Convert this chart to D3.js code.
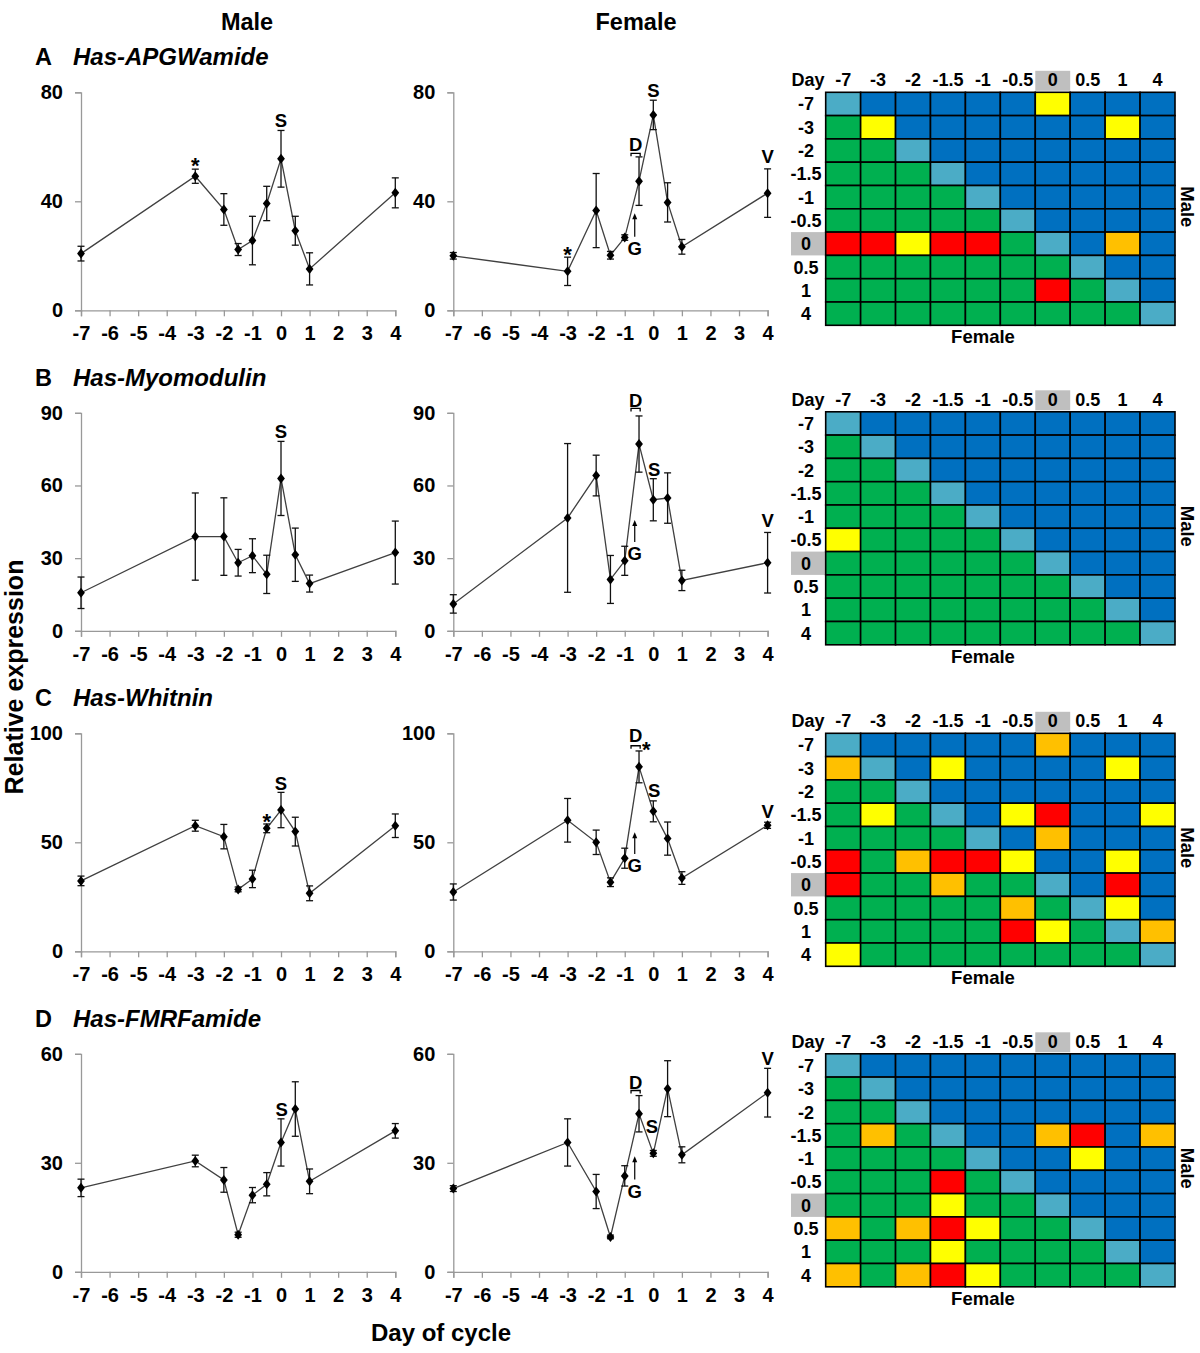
<!DOCTYPE html>
<html><head><meta charset="utf-8">
<script src="https://cdn.jsdelivr.net/npm/d3@7"></script>
<style>body{margin:0;background:#fff} svg{font-family:"Liberation Sans",Arial,sans-serif;font-weight:bold}</style>
</head><body><svg id="c" width="1200" height="1353"></svg>
<script>
// ---------- data ----------
const days = [-7,-3,-2,-1.5,-1,-0.5,0,0.5,1,4];
const xTicks = [-7,-6,-5,-4,-3,-2,-1,0,1,2,3,4];
const dayLabels = ["-7","-3","-2","-1.5","-1","-0.5","0","0.5","1","4"];
const genes = ["Has-APGWamide","Has-Myomodulin","Has-Whitnin","Has-FMRFamide"];
const panelLetters = ["A","B","C","D"];
const yMax = [80,90,100,60];
const yTicks = [[0,40,80],[0,30,60,90],[0,50,100],[0,30,60]];

const maleA    = [20.8,49.2,37.0,22.3,25.6,39.2,55.6,29.2,15.2,43.1];
const maleAErr = [2.7,2.6,5.8,2.2,8.9,6.3,10.4,5.3,5.9,5.5];
const femaleA    = [20.0,14.3,36.6,20.2,26.7,47.4,71.7,39.6,23.3,43.0];
const femaleAErr = [1.2,5.2,13.6,1.4,1.0,8.9,5.4,7.2,2.7,8.9];

const maleB    = [15.7,38.9,38.9,28.1,31.0,23.3,62.9,31.4,19.5,32.3];
const maleBErr = [6.5,18.0,16.0,5.5,7.0,7.9,15.3,11.0,3.5,13.0];
const femaleB    = [11.1,46.6,64.1,21.2,28.9,77.1,54.1,54.8,20.8,28.1];
const femaleBErr = [3.8,30.7,8.4,9.9,6.0,11.6,8.7,10.4,4.2,12.5];

const maleC    = [32.3,57.6,52.6,28.4,33.2,56.4,64.8,54.9,26.6,57.6];
const maleCErr = [2.2,2.5,5.6,1.1,4.0,2.0,8.1,6.6,3.4,5.4];
const femaleC    = [27.2,60.1,50.0,31.7,42.7,84.6,64.2,51.7,33.6,57.8];
const femaleCErr = [3.7,10.0,5.6,2.0,4.6,7.3,4.8,7.6,2.9,1.4];

const maleD    = [23.1,30.5,25.3,10.2,21.1,24.1,35.6,44.8,24.9,38.8];
const maleDErr = [2.4,1.6,3.4,0.7,2.1,3.2,6.5,7.5,3.4,2.0];
const femaleD    = [22.9,35.6,22.1,9.6,26.4,43.5,32.6,50.4,32.2,49.3];
const femaleDErr = [0.8,6.5,4.7,0.5,2.8,5.0,0.8,7.7,2.2,6.7];

// annotations: [day, value, text]
const annMale = [
  [[-3,55.1,"*"],[0,69.6,"S"]],
  [[0,82.2,"S"]],
  [[-0.5,62.2,"*"],[0,77.2,"S"]],
  [[0.02,44.8,"S"]]
];
const annFemale = [
  [[-3,22.7,"*"],[-0.62,61,"D"],[0,80.9,"S"],[4,56.4,"V"],[-0.65,22.9,"G"]],
  [[-0.62,95.2,"D"],[0.03,66.6,"S"],[4,45.7,"V"],[-0.65,31.9,"G"]],
  [[-0.62,98.9,"D"],[-0.25,95.1,"*"],[0.03,73.7,"S"],[4,64.1,"V"],[-0.65,39.3,"G"]],
  [[-0.62,52.2,"D"],[-0.05,40.1,"S"],[4,58.8,"V"],[-0.65,22.2,"G"]]
];
const bracketVal = [57.6,91.8,94.3,49.9];
const bracketSpan = [-0.78,-0.46];
const arrowDay = -0.65;
const arrowVals = [[27,35.6],[36.7,45.7],[44.6,54.6],[25.4,31.8]];

// heatmaps: rows = male day, cols = female day
// l=light blue (diagonal), b=blue, g=green, y=yellow, o=orange, r=red
const heatA = ["lbbbbbybbb","gybbbbbbyb","gglbbbbbbb","ggglbbbbbb","gggglbbbbb","ggggglbbbb","rryrrglbob","ggggggglbb","ggggggrglb","gggggggggl"];
const heatB = ["lbbbbbbbbb","glbbbbbbbb","gglbbbbbbb","ggglbbbbbb","gggglbbbbb","ygggglbbbb","gggggglbbb","ggggggglbb","gggggggglb","gggggggggl"];
const heatC = ["lbbbbbobbb","olbybbbbyb","gglbbbbbbb","gyglbyrbby","gggglbobbb","rgorrybbyb","rggogglbrb","gggggoglyb","gggggryglo","yggggggggl"];
const heatD = ["lbbbbbbbbb","glbbbbbbbb","gglbbbbbbb","goglbborbo","gggglbbybb","gggrglbbbb","gggygglbbb","ogorygglbb","gggygggglb","ogoryggggl"];
const colorMap = {l:"#4BACC6", b:"#0070C0", g:"#00B050", y:"#FFFF00", o:"#FFC000", r:"#FF0000"};

// ---------- layout ----------
const svg = d3.select("#c");
const top0 = 92.3, rowStep = 320.5, plotH = 218;
const maleX0 = 81, femaleX0 = 453.3, plotW = 314.3;
const heatX0 = 825.7, heatW = 349.3, heatH = 233;

const maleData = [[maleA,maleAErr],[maleB,maleBErr],[maleC,maleCErr],[maleD,maleDErr]];
const femaleData = [[femaleA,femaleAErr],[femaleB,femaleBErr],[femaleC,femaleCErr],[femaleD,femaleDErr]];
const heats = [heatA,heatB,heatC,heatD];

// column titles
svg.append("text").attr("x",247).attr("y",30).attr("text-anchor","middle").attr("font-size",23.5).text("Male");
svg.append("text").attr("x",636).attr("y",30).attr("text-anchor","middle").attr("font-size",23.5).text("Female");
svg.append("text").attr("transform","translate(23,677) rotate(-90)").attr("text-anchor","middle").attr("font-size",25).text("Relative expression");
svg.append("text").attr("x",441).attr("y",1341).attr("text-anchor","middle").attr("font-size",24).text("Day of cycle");

const diamond = "M0,-5L3.9,0L0,5L-3.9,0Z";

function linePanel(g, x0, r, vals, errs, anns, isFemale){
  const top = top0 + r*rowStep;
  const x = d3.scaleLinear().domain([-7,4]).range([x0, x0+plotW]);
  const y = d3.scaleLinear().domain([0,yMax[r]]).range([top+plotH, top]);
  const ax = g.append("g").attr("transform",`translate(0,${top+plotH})`)
    .call(d3.axisBottom(x).tickValues(xTicks).tickSize(6).tickPadding(10).tickFormat(d=>String(d)));
  const ay = g.append("g").attr("transform",`translate(${x0},0)`)
    .call(d3.axisLeft(y).tickValues(yTicks[r]).tickSize(6).tickPadding(12).tickFormat(d=>String(d)));
  [ax,ay].forEach(a=>{
    a.select(".domain").attr("stroke","#999").attr("stroke-width",1.3);
    a.selectAll(".tick line").attr("stroke","#999").attr("stroke-width",1.3);
    a.selectAll(".tick text").attr("fill","#000").attr("font-size",20).attr("font-family","Liberation Sans, Arial, sans-serif").attr("font-weight","bold");
  });
  const pts = days.map((d,i)=>({d, v:vals[i], e:errs[i]}));
  g.append("path").datum(pts).attr("fill","none").attr("stroke","#404040").attr("stroke-width",1.3)
    .attr("d", d3.line().x(p=>x(p.d)).y(p=>y(p.v)));
  const eb = g.append("g").attr("stroke","#111").attr("stroke-width",1.3);
  pts.forEach(p=>{
    eb.append("line").attr("x1",x(p.d)).attr("x2",x(p.d)).attr("y1",y(p.v-p.e)).attr("y2",y(p.v+p.e));
    [p.v-p.e,p.v+p.e].forEach(v=>eb.append("line").attr("x1",x(p.d)-3.5).attr("x2",x(p.d)+3.5).attr("y1",y(v)).attr("y2",y(v)));
  });
  g.append("g").selectAll("path").data(pts).join("path").attr("d",diamond).attr("fill","#000")
    .attr("transform",p=>`translate(${x(p.d)},${y(p.v)})`);
  anns.forEach(([d,v,t])=>{
    const star = t==="*";
    const fs = star?22:18.5;
    g.append("text").attr("x",x(d)).attr("y",y(v)+(star?0.6*fs:0.36*fs)).attr("text-anchor","middle")
      .attr("font-size",fs).text(t);
  });
  if(isFemale){
    const by = y(bracketVal[r]);
    g.append("path").attr("fill","none").attr("stroke","#000").attr("stroke-width",1.3)
      .attr("d",`M${x(bracketSpan[0])},${by+3}V${by}H${x(bracketSpan[1])}V${by+3}`);
    const [a0,a1] = arrowVals[r];
    const axp = x(arrowDay);
    g.append("line").attr("x1",axp).attr("x2",axp).attr("y1",y(a0)).attr("y2",y(a1)+3).attr("stroke","#000").attr("stroke-width",1.2);
    g.append("path").attr("fill","#000").attr("d",`M${axp},${y(a1)}l-2.5,6h5z`);
  }
}

function heatPanel(g, r){
  const top = top0 + r*rowStep - (r===1?1:0);
  const cx = d3.scaleBand().domain(d3.range(10)).range([heatX0, heatX0+heatW]);
  const cy = d3.scaleBand().domain(d3.range(10)).range([top, top+heatH]);
  // gray highlights
  g.append("rect").attr("x",cx(6)).attr("y",top-21.5).attr("width",cx.bandwidth()).attr("height",20).attr("fill","#bfbfbf");
  g.append("rect").attr("x",791).attr("y",cy(6)).attr("width",heatX0-791).attr("height",cy.bandwidth()).attr("fill","#bfbfbf");
  const cells = [];
  heats[r].forEach((row,i)=>row.split("").forEach((c,j)=>cells.push({i,j,c})));
  g.append("g").selectAll("rect").data(cells).join("rect")
    .attr("x",d=>cx(d.j)).attr("y",d=>cy(d.i)).attr("width",cx.bandwidth()).attr("height",cy.bandwidth())
    .attr("fill",d=>colorMap[d.c]).attr("stroke","#000").attr("stroke-width",1.6);
  g.append("text").attr("x",808).attr("y",top-6).attr("text-anchor","middle").attr("font-size",18).text("Day");
  dayLabels.forEach((l,j)=>{
    g.append("text").attr("x",cx(j)+cx.bandwidth()/2).attr("y",top-6).attr("text-anchor","middle").attr("font-size",18).text(l);
    g.append("text").attr("x",806).attr("y",cy(j)+cy.bandwidth()/2+6.5).attr("text-anchor","middle").attr("font-size",18).text(l);
  });
  g.append("text").attr("x",983).attr("y",top+heatH+18).attr("text-anchor","middle").attr("font-size",18.5).text("Female");
  g.append("text").attr("transform",`translate(1180.5,${top+heatH/2-2}) rotate(90)`).attr("text-anchor","middle").attr("font-size",18.5).text("Male");
}

for(let r=0;r<4;r++){
  const g = svg.append("g");
  const top = top0 + r*rowStep;
  g.append("text").attr("x",35).attr("y",top-27).attr("font-size",23.5).text(panelLetters[r]);
  g.append("text").attr("x",73).attr("y",top-27).attr("font-size",24).attr("font-style","italic").text(genes[r]);
  linePanel(g, maleX0, r, maleData[r][0], maleData[r][1], annMale[r], false);
  linePanel(g, femaleX0, r, femaleData[r][0], femaleData[r][1], annFemale[r], true);
  heatPanel(g, r);
}
</script></body></html>
